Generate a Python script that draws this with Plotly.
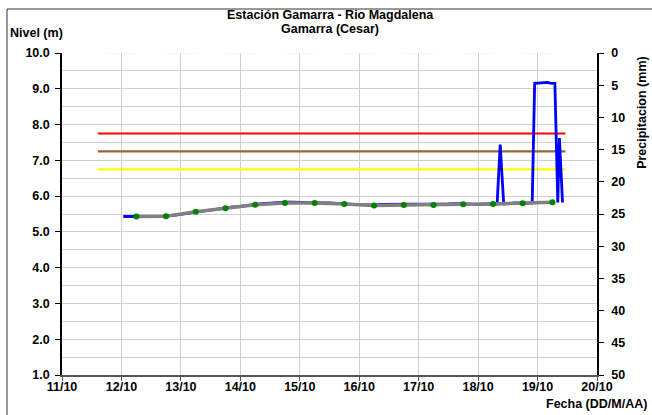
import plotly.graph_objects as go

# ---- data ----
blue_time = [
    "2012-10-12 00:45", "2012-10-12 03:00", "2012-10-12 06:00", "2012-10-12 09:00",
    "2012-10-12 12:00", "2012-10-12 15:00", "2012-10-12 18:00", "2012-10-12 21:00",
    "2012-10-13 00:00", "2012-10-13 03:00", "2012-10-13 06:00", "2012-10-13 09:00",
    "2012-10-13 12:00", "2012-10-13 15:00", "2012-10-13 18:00", "2012-10-13 21:00",
    "2012-10-14 00:00", "2012-10-14 03:00", "2012-10-14 06:00", "2012-10-14 09:00",
    "2012-10-14 12:00", "2012-10-14 15:00", "2012-10-14 18:00", "2012-10-14 21:00",
    "2012-10-15 00:00", "2012-10-15 03:00", "2012-10-15 06:00", "2012-10-15 09:00",
    "2012-10-15 12:00", "2012-10-15 15:00", "2012-10-15 18:00", "2012-10-15 21:00",
    "2012-10-16 00:00", "2012-10-16 03:00", "2012-10-16 06:00", "2012-10-16 09:00",
    "2012-10-16 12:00", "2012-10-16 15:00", "2012-10-16 18:00", "2012-10-16 21:00",
    "2012-10-17 00:00", "2012-10-17 03:00", "2012-10-17 06:00", "2012-10-17 09:00",
    "2012-10-17 12:00", "2012-10-17 15:00", "2012-10-17 18:00", "2012-10-17 21:00",
    "2012-10-18 00:00", "2012-10-18 03:00", "2012-10-18 06:00", "2012-10-18 07:40",
    "2012-10-18 08:55", "2012-10-18 10:20", "2012-10-18 12:00", "2012-10-18 15:00",
    "2012-10-18 18:00", "2012-10-18 21:50", "2012-10-18 22:50", "2012-10-19 01:00",
    "2012-10-19 03:00", "2012-10-19 04:00", "2012-10-19 05:00", "2012-10-19 07:00",
    "2012-10-19 08:10", "2012-10-19 08:50", "2012-10-19 10:05",
]
blue_level = [
    5.43, 5.43, 5.43, 5.44,
    5.43, 5.44, 5.44, 5.46,
    5.49, 5.53, 5.57, 5.59,
    5.62, 5.64, 5.67, 5.70,
    5.71, 5.75, 5.77, 5.79,
    5.81, 5.82, 5.83, 5.83,
    5.82, 5.83, 5.82, 5.81,
    5.81, 5.79, 5.79, 5.77,
    5.76, 5.75, 5.75, 5.77,
    5.77, 5.76, 5.76, 5.77,
    5.76, 5.77, 5.76, 5.77,
    5.78, 5.79, 5.78, 5.78,
    5.77, 5.78, 5.78, 5.78,
    7.44, 5.78, 5.79, 5.81,
    5.80, 5.81, 9.15, 9.16,
    9.16, 9.18, 9.16, 9.15,
    5.82, 7.62, 5.82,
]

read_time = [
    "2012-10-12 06:00", "2012-10-12 18:00", "2012-10-13 06:00", "2012-10-13 18:00",
    "2012-10-14 06:00", "2012-10-14 18:00", "2012-10-15 06:00", "2012-10-15 18:00",
    "2012-10-16 06:00", "2012-10-16 18:00", "2012-10-17 06:00", "2012-10-17 18:00",
    "2012-10-18 06:00", "2012-10-18 18:00", "2012-10-19 06:00",
]
read_level = [5.43, 5.44, 5.56, 5.66, 5.76, 5.81, 5.81, 5.78,
              5.74, 5.75, 5.75, 5.77, 5.78, 5.80, 5.83]

threshold_span = ["2012-10-11 14:30", "2012-10-19 11:15"]
threshold_levels = [7.75, 7.25, 6.75]
threshold_colors = ["#FF0000", "#996633", "#FFFF00"]

precip_time = ["2012-10-12", "2012-10-13", "2012-10-14", "2012-10-15",
               "2012-10-16", "2012-10-17", "2012-10-18", "2012-10-19"]
precip_mm = [0, 0, 0, 0, 0, 0, 0, 0]

x_tickvals = ["2012-10-11", "2012-10-12", "2012-10-13", "2012-10-14", "2012-10-15",
              "2012-10-16", "2012-10-17", "2012-10-18", "2012-10-19", "2012-10-20"]
x_ticktext = ["11/10", "12/10", "13/10", "14/10", "15/10",
              "16/10", "17/10", "18/10", "19/10", "20/10"]
y_tickvals = [1, 2, 3, 4, 5, 6, 7, 8, 9, 10]
y_ticktext = ["1.0", "2.0", "3.0", "4.0", "5.0", "6.0", "7.0", "8.0", "9.0", "10.0"]
y2_tickvals = [0, 5, 10, 15, 20, 25, 30, 35, 40, 45, 50]

x_range = ["2012-10-11", "2012-10-20"]

FONT = "Liberation Sans, Arial, sans-serif"
BOLD = dict(family=FONT, size=12.5, color="black", weight="bold")


def b(s):
    return "<b>" + str(s) + "</b>"


fig = go.Figure()

fig.add_trace(go.Bar(x=precip_time, y=precip_mm, yaxis="y2",
                     marker_color="#00a0e0", showlegend=False, hoverinfo="skip"))

for lvl, col in zip(threshold_levels, threshold_colors):
    fig.add_trace(go.Scatter(x=threshold_span, y=[lvl, lvl], mode="lines",
                             line=dict(color=col, width=2.2), showlegend=False))

fig.add_trace(go.Scatter(x=blue_time, y=blue_level, mode="lines",
                         line=dict(color="#0000FF", width=2.8), showlegend=False))
fig.add_trace(go.Scatter(x=read_time, y=read_level, mode="lines",
                         line=dict(color="#808080", width=3.5), showlegend=False))
fig.add_trace(go.Scatter(x=read_time, y=read_level, mode="markers",
                         marker=dict(color="#008000", size=6), showlegend=False))

fig.update_layout(
    width=652, height=415,
    margin=dict(l=62, r=55, t=53, b=40),
    paper_bgcolor="white", plot_bgcolor="white",
    font=dict(family=FONT, size=12.5, color="black"),
    showlegend=False,
    xaxis=dict(
        type="date", range=x_range,
        tickmode="array", tickvals=x_tickvals, ticktext=[b(t) for t in x_ticktext],
        tickfont=BOLD, automargin=False, ticklabelstandoff=-5,
        showgrid=True, gridcolor="#d0d0d0", gridwidth=1,
        showline=True, linecolor="#555555", linewidth=2,
        ticks="outside", ticklen=4, tickcolor="#555555",
        zeroline=False,
    ),
    yaxis=dict(
        range=[1, 10],
        tickmode="array", tickvals=y_tickvals, ticktext=[b(t) for t in y_ticktext],
        tickfont=BOLD, automargin=False, ticklabelstandoff=3,
        showgrid=True, gridcolor="#d0d0d0", gridwidth=1,
        minor=dict(dtick=0.5, showgrid=True, gridcolor="#d0d0d0", gridwidth=1),
        showline=True, linecolor="black", linewidth=1.5,
        ticks="outside", ticklen=5, tickcolor="black",
        zeroline=False,
    ),
    yaxis2=dict(
        overlaying="y", side="right", range=[50, 0],
        tickmode="array", tickvals=y2_tickvals, ticktext=[b(t) for t in y2_tickvals],
        automargin=False, ticklabelstandoff=5,
        tickfont=BOLD, showgrid=False,
        showline=True, linecolor="black", linewidth=1.5,
        ticks="outside", ticklen=5, tickcolor="black",
        zeroline=False,
    ),
    bargap=0.5,
)

annots = [
    dict(text="Estación Gamarra - Rio Magdalena", x=0.501, y=1.118),
    dict(text="Gamarra (Cesar)", x=0.501, y=1.0745),
]
for a in annots:
    fig.add_annotation(xref="paper", yref="paper", x=a["x"], y=a["y"], text=b(a["text"]),
                       showarrow=False, xanchor="center", yanchor="middle", font=BOLD)

fig.add_annotation(xref="paper", yref="paper", x=-0.101, y=1.062, text=b("Nivel (m)"),
                   showarrow=False, xanchor="left", yanchor="middle", font=BOLD)
fig.add_annotation(xref="paper", yref="paper", x=1.084, y=0.817,
                   text=b("Precipitacion (mm)"),
                   textangle=-90, showarrow=False, xanchor="center", yanchor="middle",
                   font=BOLD)
fig.add_annotation(xref="paper", yref="paper", x=1.097, y=-0.09, text=b("Fecha (DD/M/AA)"),
                   showarrow=False, xanchor="right", yanchor="middle", font=BOLD)

fig.add_shape(type="rect", xref="paper", yref="paper",
              x0=-0.1028, x1=1.12, y0=-0.15, y1=1.1366,
              line=dict(color="#333333", width=1), fillcolor="rgba(0,0,0,0)")

fig.write_html("out.html", post_script="document.body.style.margin='0';",
               config={"displayModeBar": False})
